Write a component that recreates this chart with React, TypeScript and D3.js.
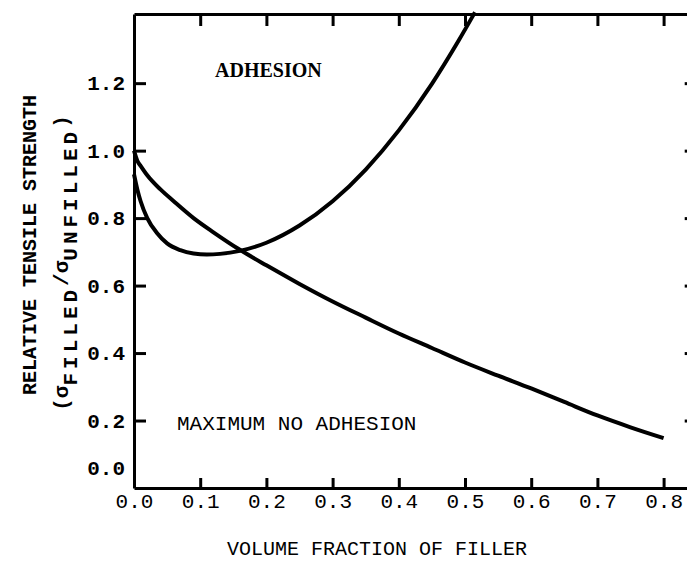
import React, {useRef, useEffect} from "react"
import * as d3 from "d3"

// tick values
const xTicks = [0, 0.1, 0.2, 0.3, 0.4, 0.5, 0.6, 0.7, 0.8]
const yTicks = [0, 0.2, 0.4, 0.6, 0.8, 1.0, 1.2]

// curve with adhesion (dips then rises)
const adhesionX = [0, 0.005, 0.01, 0.02, 0.035, 0.05, 0.07, 0.09, 0.11, 0.13, 0.16, 0.2, 0.25, 0.3, 0.35, 0.4, 0.45, 0.49, 0.515]
const adhesionY = [0.93, 0.885, 0.85, 0.80, 0.755, 0.725, 0.705, 0.695, 0.692, 0.694, 0.703, 0.727, 0.778, 0.85, 0.944, 1.06, 1.198, 1.325, 1.41]

// maximum, no adhesion
const noAdhesionX = [0, 0.005, 0.01, 0.02, 0.04, 0.06, 0.09, 0.12, 0.16, 0.2, 0.25, 0.3, 0.35, 0.4, 0.45, 0.5, 0.55, 0.6, 0.65, 0.7, 0.75, 0.8]
const noAdhesionY = [1.0, 0.97, 0.955, 0.927, 0.885, 0.85, 0.80, 0.758, 0.706, 0.66, 0.605, 0.553, 0.505, 0.458, 0.415, 0.372, 0.333, 0.295, 0.255, 0.215, 0.18, 0.148]

const mono = "'Liberation Mono', 'DejaVu Sans Mono', monospace"

const App = () => {
    let element = useRef(null)

    useEffect(() => {
        let width = 687, height = 564

        let svg = d3.select(element.current)
            .append("svg")
                .attr("width", width)
                .attr("height", height)
                .style("position", "absolute")
                .style("left", 0)
                .style("top", 0)
                .style("background", "#fff")

        let x = d3.scaleLinear()
            .domain([0, 0.85])
            .range([134, 134 + 0.85 * 662])

        let y = d3.scaleLinear()
            .domain([0, 1.405])
            .range([488, 14])

        const styleAxis = g => {
            g.select(".domain").attr("stroke", "#000").attr("stroke-width", 3)
            g.selectAll(".tick line").attr("stroke", "#000").attr("stroke-width", 3)
        }

        // bottom
        svg.append("g")
            .attr("transform", "translate(0," + y(0) + ")")
            .call(d3.axisBottom(x).tickValues(xTicks).tickSizeInner(-10).tickSizeOuter(0).tickPadding(5).tickFormat(d3.format(".1f")))
            .call(styleAxis)
            .call(g => g.selectAll(".tick text")
                .attr("font-family", mono)
                .attr("font-size", 21)
                .attr("fill", "#000"))

        // top
        svg.append("g")
            .attr("transform", "translate(0," + y(1.405) + ")")
            .call(d3.axisTop(x).tickValues(xTicks.slice(1)).tickSizeInner(-12).tickSizeOuter(0).tickFormat(""))
            .call(styleAxis)

        // left
        svg.append("g")
            .attr("transform", "translate(" + x(0) + ",0)")
            .call(d3.axisLeft(y).tickValues(yTicks).tickSizeInner(-12).tickSizeOuter(0).tickPadding(9).tickFormat(d3.format(".1f")))
            .call(styleAxis)
            .call(g => g.selectAll(".tick text")
                .attr("font-family", mono)
                .attr("font-weight", "bold")
                .attr("font-size", 21)
                .attr("fill", "#000")
                .attr("y", d => d === 0 ? -20 : 0))
            .call(g => g.selectAll(".tick line").filter(d => d === 0).remove())

        // right
        svg.append("g")
            .attr("transform", "translate(" + x(0.85) + ",0)")
            .call(d3.axisRight(y).tickValues(yTicks.slice(1)).tickSizeInner(-12).tickSizeOuter(0).tickFormat(""))
            .call(styleAxis)

        const line = d3.line()
            .x(d => x(d[0]))
            .y(d => y(d[1]))
            .curve(d3.curveMonotoneX)

        svg.append("path")
            .datum(adhesionX.map((v, i) => [v, adhesionY[i]]))
            .attr("d", line)
            .attr("fill", "none")
            .attr("stroke", "#000")
            .attr("stroke-width", 4)

        svg.append("path")
            .datum(noAdhesionX.map((v, i) => [v, noAdhesionY[i]]))
            .attr("d", line)
            .attr("fill", "none")
            .attr("stroke", "#000")
            .attr("stroke-width", 4)

        // annotations
        svg.append("text")
            .attr("x", 215).attr("y", 77)
            .attr("font-family", "'Liberation Serif', serif")
            .attr("font-weight", "bold")
            .attr("font-size", 20)
            .text("ADHESION")

        svg.append("text")
            .attr("x", 177).attr("y", 430)
            .attr("font-family", mono)
            .attr("font-size", 21)
            .text("MAXIMUM NO ADHESION")

        svg.append("text")
            .attr("x", 377).attr("y", 555)
            .attr("text-anchor", "middle")
            .attr("font-family", mono)
            .attr("font-size", 20)
            .text("VOLUME FRACTION OF FILLER")

        // y titles
        svg.append("text")
            .attr("transform", "translate(36,245) rotate(-90)")
            .attr("text-anchor", "middle")
            .attr("font-family", mono)
            .attr("font-weight", "bold")
            .attr("font-size", 20)
            .text("RELATIVE TENSILE STRENGTH")

        let t = svg.append("text")
            .attr("transform", "translate(68,263) rotate(-90)")
            .attr("text-anchor", "middle")
            .attr("font-family", mono)
            .attr("font-weight", "bold")
            .attr("font-size", 21)
        t.append("tspan").text("(σ")
        t.append("tspan").attr("dy", 9).attr("letter-spacing", 4).text("FILLED")
        t.append("tspan").attr("dy", -9).text("/σ")
        t.append("tspan").attr("dy", 9).attr("letter-spacing", 4).text("UNFILLED")
        t.append("tspan").attr("dy", -9).text(")")

        return () => {
            if(element.current) {
                d3.select(element.current).selectAll("*").remove()
            }
        }
    }, [])

    return (
        <div ref={element}></div>
    )
}

export default App
